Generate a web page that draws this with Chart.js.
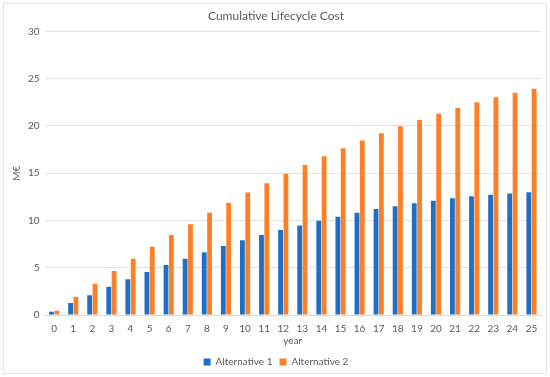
<!DOCTYPE html>
<html>
<head>
<meta charset="utf-8">
<script src="https://cdn.jsdelivr.net/npm/chart.js@4/dist/chart.umd.min.js"></script>
<style>
  html, body { margin: 0; padding: 0; background: #fff; }
  #wrap { position: absolute; left: 0; top: 0; width: 550px; height: 377px; }
</style>
</head>
<body>
<div id="wrap"><canvas id="chart" width="550" height="377"></canvas></div>
<script>
const years = ['0','1','2','3','4','5','6','7','8','9','10','11','12','13','14','15','16','17','18','19','20','21','22','23','24','25'];
const alternative1 = [0.35, 1.27, 2.1, 3.0, 3.77, 4.54, 5.28, 5.95, 6.65, 7.29, 7.92, 8.45, 8.98, 9.47, 9.96, 10.39, 10.81, 11.2, 11.51, 11.83, 12.08, 12.36, 12.57, 12.71, 12.85, 12.99];
const alternative2 = [0.46, 1.9, 3.31, 4.65, 5.95, 7.22, 8.45, 9.61, 10.81, 11.87, 12.96, 13.94, 14.93, 15.88, 16.8, 17.64, 18.45, 19.23, 19.96, 20.63, 21.3, 21.9, 22.5, 23.03, 23.52, 23.94];

const fontFamily = 'Lato, "Open Sans", sans-serif';
const textColor = '#595959';

// light frame around the whole chart
const framePlugin = {
    id: 'frame',
    beforeDraw(chart) {
        const c = chart.ctx;
        c.save();
        c.fillStyle = '#fff';
        c.fillRect(0, 0, chart.width, chart.height);
        c.strokeStyle = '#e3e3e3';
        c.lineWidth = 1;
        c.strokeRect(3.5, 3.5, chart.width - 7, chart.height - 7);
        c.restore();
    }
};

new Chart(document.getElementById('chart'), {
    type: 'bar',
    data: {
        labels: years,
        datasets: [{
            label: 'Alternative 1',
            data: alternative1,
            backgroundColor: '#1f6fc5',
            categoryPercentage: 0.56,
            barPercentage: 0.9
        }, {
            label: 'Alternative 2',
            data: alternative2,
            backgroundColor: '#ff7f27',
            categoryPercentage: 0.56,
            barPercentage: 0.9
        }]
    },
    options: {
        responsive: false,
        animation: false,
        layout: { padding: { left: 11, right: 9, top: 7, bottom: 0 } },
        plugins: {
            title: {
                display: true,
                text: 'Cumulative Lifecycle Cost',
                color: textColor,
                font: { family: fontFamily, size: 12, weight: 'normal' },
                padding: { top: 2, bottom: 8 }
            },
            legend: {
                position: 'bottom',
                labels: {
                    color: textColor,
                    font: { family: fontFamily, size: 10 },
                    boxWidth: 7,
                    boxHeight: 7,
                    padding: 7
                }
            },
            tooltip: { enabled: false }
        },
        scales: {
            x: {
                grid: { display: false },
                border: { display: true, color: '#d9d9d9' },
                ticks: {
                    color: textColor,
                    font: { family: fontFamily, size: 10 },
                    maxRotation: 0,
                    autoSkip: false,
                    padding: 0
                },
                title: {
                    display: true,
                    text: 'year',
                    color: textColor,
                    font: { family: fontFamily, size: 10 },
                    padding: { top: 0, bottom: 3 }
                }
            },
            y: {
                min: 0,
                max: 30,
                ticks: {
                    stepSize: 5,
                    color: textColor,
                    font: { family: fontFamily, size: 10 },
                    padding: 5
                },
                grid: { color: '#e3e3e3', drawTicks: false },
                border: { display: false },
                title: {
                    display: true,
                    text: 'M€',
                    color: textColor,
                    font: { family: fontFamily, size: 10 },
                    padding: { top: 0, bottom: 0 }
                }
            }
        }
    },
    plugins: [framePlugin]
});
</script>
</body>
</html>
